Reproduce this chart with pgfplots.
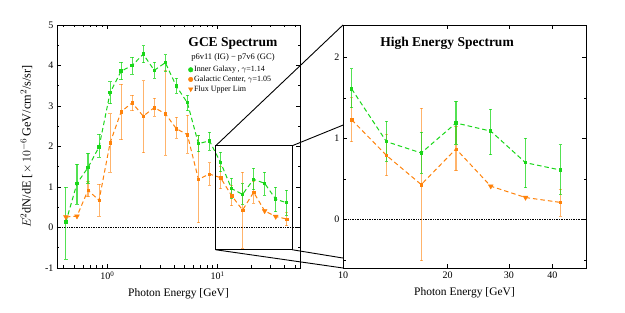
\documentclass[border=0pt]{standalone}
\usepackage{fontspec}
\setmainfont{Liberation Serif}
\usepackage{pgfplots}
\pgfplotsset{compat=1.18}
\usepackage{pgfplotstable}
\definecolor{igreen}{RGB}{25,215,25}
\definecolor{gorange}{RGB}{255,130,10}

\pgfplotstableread{
x y ep em
0.4217 0.14 0.86 0.93
0.5309 1.09 0.47 0.51
0.6683 1.48 0.36 0.38
0.8414 1.99 0.31 0.25
1.0593 3.33 0.27 0.27
1.3335 3.86 0.22 0.21
1.6788 4.00 0.20 0.21
2.1135 4.28 0.21 0.21
2.6607 3.88 0.20 0.20
3.3497 4.07 0.20 0.21
4.2170 3.49 0.20 0.18
5.3088 3.08 0.19 0.20
6.6834 2.07 0.21 0.20
8.4140 2.14 0.22 0.23
10.593 1.61 0.25 0.23
13.335 0.96 0.25 0.24
16.788 0.82 0.26 0.25
21.135 1.19 0.27 0.26
26.607 1.09 0.27 0.29
33.497 0.70 0.30 0.31
42.170 0.61 0.31 0.30
}\igdata

\pgfplotstableread{
x y ep em
10.593 1.61 0.25 0.23
13.335 0.96 0.25 0.24
16.788 0.82 0.26 0.25
21.135 1.19 0.27 0.26
26.607 1.09 0.27 0.29
33.497 0.70 0.30 0.31
42.170 0.61 0.31 0.30
}\igR

\pgfplotstableread{
x y
0.4217 0.26
0.5309 0.28
0.6683 0.92
0.8414 0.67
1.0593 2.09
1.3335 2.86
1.6788 3.08
2.1135 2.75
2.6607 2.96
3.3497 2.81
4.2170 2.44
5.3088 2.29
6.6834 1.19
8.4140 1.32
10.593 1.23
13.335 0.79
16.788 0.43
21.135 0.87
26.607 0.41
33.497 0.27
42.170 0.21
}\gcline

\pgfplotstableread{
x y
10.593 1.23
13.335 0.79
16.788 0.43
21.135 0.87
26.607 0.41
33.497 0.27
42.170 0.21
}\gclineR

\pgfplotstableread{
x y ep em
0.6683 0.92 0.21 0.16
0.8414 0.67 0.40 0.39
1.0593 2.09 0.72 0.72
1.3335 2.86 0.68 0.69
1.6788 3.08 0.19 0.20
2.1135 2.75 0.87 0.90
2.6607 2.96 0.23 0.21
3.3497 2.81 1.06 1.02
4.2170 2.44 0.28 0.24
5.3088 2.29 0.48 0.46
6.6834 1.19 1.09 1.07
8.4140 1.32 0.28 0.27
10.593 1.23 0.27 0.27
13.335 0.79 0.26 0.25
16.788 0.43 0.94 0.94
21.135 0.87 0.28 0.27
42.170 0.21 0.16 0.17
}\gcmeas

\pgfplotstableread{
x y ep em
10.593 1.23 0.27 0.27
13.335 0.79 0.26 0.25
16.788 0.43 0.94 0.94
21.135 0.87 0.28 0.27
42.170 0.21 0.16 0.17
}\gcmeasR

\pgfplotstableread{
x y
0.4217 0.26
0.5309 0.28
26.607 0.41
33.497 0.27
}\gcul

\pgfplotstableread{
x y
26.607 0.41
33.497 0.27
}\gculR

\begin{document}
\begin{tikzpicture}
\path[use as bounding box] (0pt,0pt) rectangle (625pt,313pt);
\begin{axis}[
  scale only axis, width=243pt, height=243pt,
  xmode=log, axis line style={line width=0.8pt},
  tick style={black, line width=0.6pt},
  major tick length=4pt, minor tick length=2.5pt,
  tick label style={font=\fontsize{10}{10}\selectfont},
  /pgf/number format/assume math mode=true,
  label style={font=\fontsize{11.5}{12}\selectfont},
  at={(57pt,45pt)}, anchor=south west,
  xmin=0.35, xmax=55.6, ymin=-1, ymax=5,
  xtick={1,10}, xticklabels={10\textsuperscript{0},10\textsuperscript{1}},
  minor xtick={0.4,0.5,0.6,0.7,0.8,0.9,2,3,4,5,6,7,8,9,20,30,40,50},
  ytick={-1,0,1,2,3,4,5},
  minor ytick={-0.5,0.5,1.5,2.5,3.5,4.5},
  xlabel={Photon Energy [GeV]},
  ylabel={$E^2$dN/dE [$\times\,10^{-6}\,$GeV/cm$^2$/s/sr]},
  xlabel style={yshift=-2pt},
  ylabel style={yshift=6pt, font=\fontsize{12.3}{13}\selectfont},
  legend style={at={(rel axis cs:0.54,0.836)}, anchor=north west, draw=none, fill=none,
    font=\fontsize{8}{8}\selectfont, inner sep=0pt, row sep=0.2pt,
    nodes={inner sep=1.2pt}},
  legend cell align=left,
  legend image code/.code={\draw[mark repeat=2,mark phase=2] plot coordinates {(0cm,0cm)(0.15cm,0cm)(0.3cm,0cm)};},
]
\addlegendimage{only marks, mark=*, igreen, mark size=2.3pt}
\addlegendentry{Inner Galaxy\,, $\gamma$=1.14}
\addlegendimage{only marks, mark=*, gorange, mark size=2.3pt}
\addlegendentry{Galactic Center, $\gamma$=1.05}
\addlegendimage{only marks, mark=triangle*, mark options={rotate=180}, gorange, mark size=2.6pt}
\addlegendentry{Flux Upper Lim}

\addplot[black, densely dotted, line width=0.7pt, forget plot] coordinates {(0.35,0) (55.6,0)};
\addplot[gorange, line width=1pt, dash pattern=on 4.5pt off 3pt, no marks, forget plot] table[x=x,y=y]{\gcline};
\addplot[gorange, only marks, mark=square*, mark size=1.2pt, forget plot,
  error bars/.cd, y dir=both, y explicit,
    error bar style={line width=1.1pt, opacity=0.6, solid},
    error mark options={rotate=90, mark size=1.7pt, line width=0.8pt, opacity=0.6, solid}]
  table[x=x,y=y,y error plus=ep,y error minus=em]{\gcmeas};
\addplot[gorange, only marks, mark=triangle*, mark options={rotate=180}, mark size=2.8pt, forget plot] table[x=x,y=y]{\gcul};
\addplot[igreen, line width=1pt, dash pattern=on 4.5pt off 3pt, mark=square*, mark size=1.2pt, mark options={solid}, forget plot,
  error bars/.cd, y dir=both, y explicit,
    error bar style={line width=1.1pt, opacity=0.75, solid},
    error mark options={rotate=90, mark size=1.7pt, line width=0.8pt, opacity=0.75, solid}]
  table[x=x,y=y,y error plus=ep,y error minus=em]{\igdata};

\draw[black, line width=0.9pt] (axis cs:9.6,-0.55) rectangle (axis cs:47.4,2.02);
\coordinate (bTL) at (axis cs:9.6,2.02);
\coordinate (bTR) at (axis cs:47.4,2.02);
\coordinate (bBL) at (axis cs:9.6,-0.55);
\coordinate (bBR) at (axis cs:47.4,-0.55);
\node[font=\fontsize{13.5}{14}\selectfont\bfseries] at (rel axis cs:0.724,0.926) {GCE Spectrum};
\node[font=\fontsize{8.5}{9}\selectfont] at (rel axis cs:0.724,0.868) {p6v11 (IG) − p7v6 (GC)};
\end{axis}

\begin{axis}[
  scale only axis, width=243pt, height=243pt,
  xmode=log, axis line style={line width=0.8pt},
  tick style={black, line width=0.6pt},
  major tick length=4pt, minor tick length=2.5pt,
  tick label style={font=\fontsize{10}{10}\selectfont},
  /pgf/number format/assume math mode=true,
  label style={font=\fontsize{11.5}{12}\selectfont},
  at={(343pt,45pt)}, anchor=south west,
  xmin=10, xmax=50, ymin=-0.6, ymax=2.4,
  xtick={10,20,30,40}, xticklabels={10,20,30,40},
  minor xtick={},
  ytick={0,1,2}, minor ytick={-0.5,0.5,1.5},
  xlabel={Photon Energy [GeV]},
  xlabel style={yshift=-2pt},
]
\addplot[black, densely dotted, line width=0.7pt] coordinates {(10,0) (50,0)};
\addplot[gorange, line width=1pt, dash pattern=on 4.5pt off 3pt, no marks] table[x=x,y=y]{\gclineR};
\addplot[gorange, only marks, mark=square*, mark size=1.2pt,
  error bars/.cd, y dir=both, y explicit,
    error bar style={line width=1.1pt, opacity=0.6, solid},
    error mark options={rotate=90, mark size=1.7pt, line width=0.8pt, opacity=0.6, solid}]
  table[x=x,y=y,y error plus=ep,y error minus=em]{\gcmeasR};
\addplot[gorange, only marks, mark=triangle*, mark options={rotate=180}, mark size=2.8pt] table[x=x,y=y]{\gculR};
\addplot[igreen, line width=1pt, dash pattern=on 4.5pt off 3pt, mark=square*, mark size=1.2pt, mark options={solid},
  error bars/.cd, y dir=both, y explicit,
    error bar style={line width=1.1pt, opacity=0.75, solid},
    error mark options={rotate=90, mark size=1.7pt, line width=0.8pt, opacity=0.75, solid}]
  table[x=x,y=y,y error plus=ep,y error minus=em]{\igR};
\coordinate (rTL) at (rel axis cs:0,1);
\coordinate (rTR) at (rel axis cs:0,0.588);
\coordinate (rBL) at (rel axis cs:0,0);
\coordinate (rBR) at (rel axis cs:0,0.041);
\node[font=\fontsize{13.5}{14}\selectfont\bfseries] at (rel axis cs:0.428,0.926) {High Energy Spectrum};
\end{axis}
\draw[black, line width=0.9pt] (bTL) -- (rTL);
\draw[black, line width=0.9pt] (bTR) -- (rTR);
\draw[black, line width=0.9pt] (bBL) -- (rBL);
\draw[black, line width=0.9pt] (bBR) -- (rBR);
\end{tikzpicture}
\end{document}
